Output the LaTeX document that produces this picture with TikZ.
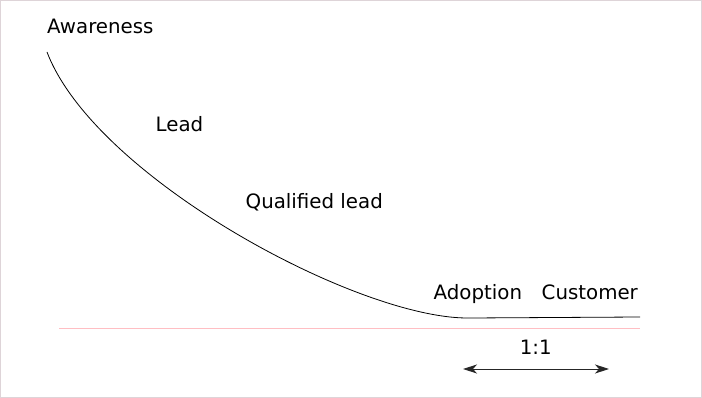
\documentclass[tikz,border=0pt]{standalone}
\usepackage{fontspec}
\setmainfont{DejaVu Sans}
\usetikzlibrary{arrows.meta}
\definecolor{framegray}{RGB}{222,212,216}
\definecolor{basepink}{RGB}{255,190,195}

\begin{document}
\begin{tikzpicture}[x=1pt,y=-1pt,
  stage/.style={anchor=base west,inner sep=0pt,font=\fontsize{19.8}{23}\selectfont},
  ratio/.style={anchor=base,inner sep=0pt,font=\fontsize{19.8}{23}\selectfont},
  span/.style={{Stealth[length=14pt,width=9pt,inset=4pt]}-{Stealth[length=14pt,width=9pt,inset=4pt]},line width=0.9pt,draw=black!85}]
\useasboundingbox (0,0) rectangle (702,398);
\draw[framegray,line width=1pt] (0.5,0.5) rectangle (701.5,397);
\draw[basepink,line width=0.9pt] (59,328) -- (640,328);
\draw[line width=0.8pt] (47,52) .. controls (95,178) and (360,320) .. (470,318) -- (640,317);
\node[stage] (aware) at (47,34) {Awareness};
\node[stage] (lead) at (155.5,132) {Lead};
\node[stage] (qual) at (245.5,209) {Qualified lead};
\node[stage] (adopt) at (433.5,300) {Adoption};
\node[stage] (cust) at (541.5,300) {Customer};
\node[ratio] (ratio) at (535.7,354) {1:1};
\coordinate (left) at (463,369);
\coordinate (right) at (609,369);
\draw[span] (left) -- (right);
\end{tikzpicture}
\end{document}
